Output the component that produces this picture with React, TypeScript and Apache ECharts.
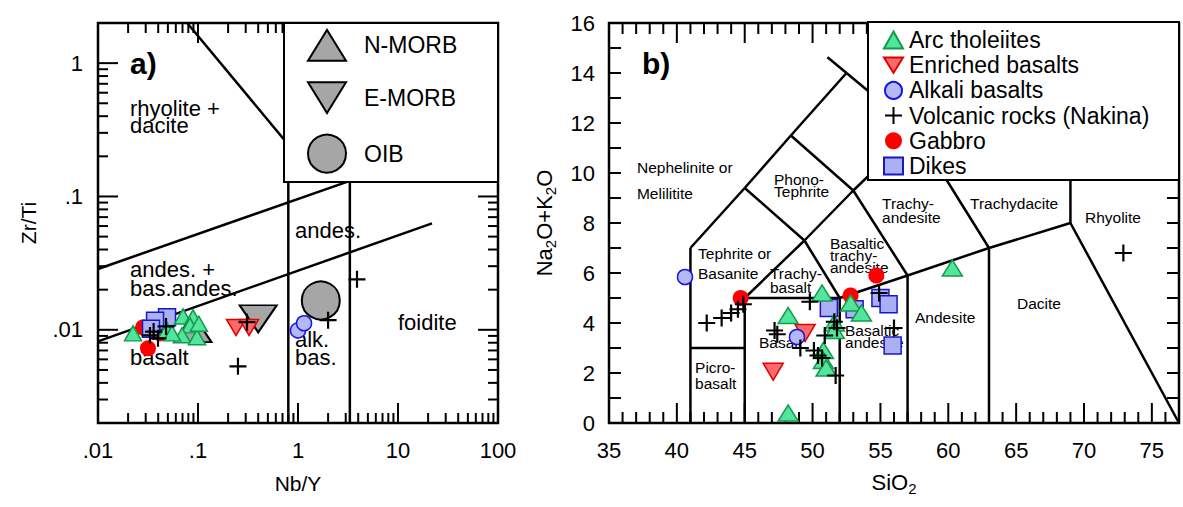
import React, { useEffect, useRef } from 'react';
import * as echarts from 'echarts';

const FONT = '"Liberation Sans", Arial, Helvetica, sans-serif';

// ---------- Panel a) Zr/Ti vs Nb/Y ----------
const arcA = [[0.0224, 0.0094], [0.049, 0.0099], [0.0708, 0.0126], [0.0891, 0.0124], [0.0832, 0.0108], [0.0692, 0.0091], [0.0977, 0.0088], [0.055, 0.0094], [0.102, 0.0111]];
const enrichedA = [[0.24, 0.0104], [0.324, 0.0104]];
const alkaliA = [[1.0, 0.0099], [1.15, 0.0112]];
const volcanicA = [[0.0331, 0.00908], [0.0398, 0.00863], [0.0479, 0.0106], [0.036, 0.0097], [0.309, 0.0114], [0.251, 0.00532], [2.0, 0.0118], [3.89, 0.0239]];
const gabbroA = [[0.0282, 0.0104], [0.0316, 0.00726], [0.0417, 0.0094]];
const dikesA = [[0.049, 0.0124], [0.0372, 0.0117], [0.0339, 0.0102]];
const nMorbA = [[0.089, 0.0103]];
const eMorbA = [[0.4, 0.0121]];
const oibA = [[1.69, 0.0166]];

// field boundaries [x1, y1, x2, y2]
const boundsA = [
  [0.078, 2, 1, 0.2],
  [0.01, 0.0286, 3.3, 0.131],
  [0.01, 0.00819, 21.9, 0.0629],
  [0.8, 0.002, 0.8, 0.2],
  [3.3, 0.002, 3.3, 0.2],
];
const labelsA = [
  { text: 'a)', x: 0.0209, y: 1.0, size: 30, bold: true },
  { text: 'rhyolite +\ndacite', x: 0.0209, y: 0.395, size: 22, lh: 17 },
  { text: 'andes.', x: 0.933, y: 0.0557, size: 22 },
  { text: 'andes. +\nbas.andes.', x: 0.0209, y: 0.0241, size: 22, lh: 19 },
  { text: 'basalt', x: 0.0209, y: 0.00621, size: 22 },
  { text: 'alk.\nbas.', x: 0.933, y: 0.00726, size: 22, lh: 18 },
  { text: 'foidite', x: 10, y: 0.01137, size: 22 },
];

// ---------- Panel b) TAS ----------
const arcB = [[48.2, 4.3], [48.2, 0.4], [50.7, 5.2], [52.8, 4.8], [53.6, 4.4], [51.6, 4.0], [51.6, 3.7], [50.8, 2.9], [50.8, 2.5], [51.0, 2.2], [60.3, 6.2]];
const enrichedB = [[47.1, 2.05], [49.45, 3.6]];
const alkaliB = [[40.6, 5.84], [48.85, 3.44]];
const volcanicB = [[42.2, 4.0], [43.3, 4.2], [44.0, 4.4], [44.5, 4.55], [44.9, 4.75], [47.2, 3.7], [47.4, 3.55], [49.8, 4.85], [49.1, 3.0], [50.1, 2.9], [50.4, 2.7], [50.7, 2.6], [50.9, 3.5], [51.6, 4.05], [51.8, 3.8], [51.7, 1.9], [54.9, 5.2], [56.0, 3.8], [72.9, 6.8]];
const gabbroB = [[44.7, 5.0], [52.8, 5.1], [54.7, 5.9]];
const dikesB = [[51.2, 4.6], [53.1, 4.55], [55.0, 5.0], [55.6, 4.75], [55.9, 3.1]];

const boundsB = [
  [41, 0, 41, 7], [41, 3, 45, 3], [45, 0, 45, 5], [45, 5, 52, 5], [52, 0, 52, 5],
  [52, 5, 57, 5.9], [57, 5.9, 63, 7], [63, 7, 69, 8], [57, 0, 57, 5.9], [63, 0, 63, 7],
  [69, 8, 77, 0], [69, 8, 69, 13],
  [41, 7, 45, 9.4], [45, 9.4, 48.4, 11.5], [48.4, 11.5, 52.5, 14],
  [45, 5, 49.4, 7.3], [49.4, 7.3, 52, 5], [49.4, 7.3, 45, 9.4],
  [49.4, 7.3, 53, 9.3], [53, 9.3, 57.6, 11.7], [53, 9.3, 48.4, 11.5], [53, 9.3, 57, 5.9],
  [57.6, 11.7, 63, 7], [51.1, 14.63, 52.5, 14], [52.5, 14, 57.6, 11.7],
];
const labelsB = [
  { text: 'b)', x: 37.43, y: 14.39, size: 30, bold: true },
  { text: 'Nephelinite or\nMelilitite', x: 37.06, y: 9.71, size: 15.5, lh: 26 },
  { text: 'Phono-\nTephrite', x: 47.16, y: 9.51, size: 15.5, lh: 12.5 },
  { text: 'Tephrite or\nBasanite', x: 41.56, y: 6.39, size: 15.5, lh: 20 },
  { text: 'Trachy-\nbasalt', x: 46.86, y: 5.71, size: 15.5, lh: 14 },
  { text: 'Basaltic\ntrachy-\nandesite', x: 51.28, y: 6.69, size: 15.5, lh: 12 },
  { text: 'Trachy-\nandesite', x: 55.12, y: 8.51, size: 15.5, lh: 14 },
  { text: 'Trachydacite', x: 61.6, y: 8.79, size: 15.5 },
  { text: 'Rhyolite', x: 70.07, y: 8.23, size: 15.5 },
  { text: 'Basalt', x: 46.05, y: 3.23, size: 15.5 },
  { text: 'Basaltic\nandesite', x: 52.39, y: 3.47, size: 15.5, lh: 12.5 },
  { text: 'Picro-\nbasalt', x: 41.34, y: 1.91, size: 15.5, lh: 16 },
  { text: 'Andesite', x: 57.55, y: 4.23, size: 15.5 },
  { text: 'Dacite', x: 65.06, y: 4.79, size: 15.5 },
];

// ---------- ticks ----------
const logMantissas = [2, 3, 4, 5, 6, 7, 8, 9];
const xDecadesA = [0.01, 0.1, 1, 10, 100];
const yDecadesA = [0.01, 0.1, 1];
const xTicksA = [
  ...xDecadesA.map((v) => ({ v, big: true })),
  ...[0.01, 0.1, 1, 10].flatMap((d) => logMantissas.map((m) => ({ v: m * d, big: false }))),
];
const yTicksA = [
  ...yDecadesA.map((v) => ({ v, big: true })),
  ...[0.001, 0.01, 0.1].flatMap((d) => logMantissas.map((m) => ({ v: m * d, big: false }))).filter((t) => t.v > 0.0021 && t.v < 1.99),
];
const xTicksB: { v: number; big: boolean }[] = [];
for (let v = 36; v <= 76; v++) xTicksB.push({ v, big: v % 5 === 0 });
const yTicksB: { v: number; big: boolean }[] = [];
for (let v = 1; v <= 15; v++) yTicksB.push({ v, big: false });

const triPath = 'path://M0,30L18.5,0L37,30Z';
const invPath = 'path://M0,0L37,0L18.5,30Z';
const plusPath = 'path://M0,5L10,5M5,0L5,10';

const ST = {
  arc: { symbol: 'triangle', itemStyle: { color: '#52e59c', borderColor: '#139a4c', borderWidth: 1.5, opacity: 1 } },
  enriched: { symbol: invPath, itemStyle: { color: '#fb6a6a', borderColor: '#e00000', borderWidth: 1.5, opacity: 1 } },
  alkali: { symbol: 'circle', itemStyle: { color: '#b4b9f5', borderColor: '#1515e6', borderWidth: 1.5, opacity: 1 } },
  volcanic: { symbol: plusPath, itemStyle: { color: '#000', borderColor: '#000', borderWidth: 2.2, opacity: 1 } },
  gabbro: { symbol: 'circle', itemStyle: { color: '#ff0000', borderColor: '#ff0000', borderWidth: 0, opacity: 1 } },
  dikes: { symbol: 'rect', itemStyle: { color: '#aab0f2', borderColor: '#1717c8', borderWidth: 1.5, opacity: 1 } },
  ref: { color: '#a6a6a6', borderColor: '#000', borderWidth: 2, opacity: 1 },
};

function scatter(name: string, gi: number, data: number[][], st: any, size: any) {
  return { type: 'scatter', name, xAxisIndex: gi, yAxisIndex: gi, data, symbol: st.symbol, symbolSize: size, itemStyle: st.itemStyle, z: 4 };
}

function boundSeries(gi: number, data: number[][]) {
  return {
    type: 'custom', xAxisIndex: gi, yAxisIndex: gi, silent: true, z: 1,
    data, encode: { x: [0, 2], y: [1, 3] },
    renderItem: (params: any, api: any) => {
      const p1 = api.coord([api.value(0), api.value(1)]);
      const p2 = api.coord([api.value(2), api.value(3)]);
      return { type: 'line', shape: { x1: p1[0], y1: p1[1], x2: p2[0], y2: p2[1] }, style: { stroke: '#000', lineWidth: 2.5 } };
    },
  };
}

function labelSeries(gi: number, labels: any[]) {
  return {
    type: 'custom', xAxisIndex: gi, yAxisIndex: gi, silent: true, z: 1,
    data: labels.map((l) => [l.x, l.y]),
    renderItem: (params: any, api: any) => {
      const l = labels[params.dataIndex];
      const p = api.coord([l.x, l.y]);
      return {
        type: 'text', x: p[0], y: p[1],
        style: {
          text: l.text, fill: '#000', fontSize: l.size, fontFamily: FONT, fontWeight: l.bold ? 'bold' : 'normal',
          align: 'left', verticalAlign: 'middle', lineHeight: l.lh || l.size,
        },
      };
    },
  };
}

function tickSeries(gi: number, dir: 'x' | 'y', ticks: { v: number; big: boolean }[], ref: number, bigLen: number, smallLen: number) {
  return {
    type: 'custom', xAxisIndex: gi, yAxisIndex: gi, silent: true, z: 3,
    data: ticks.map((t) => (dir === 'x' ? [t.v, ref] : [ref, t.v])),
    renderItem: (params: any, api: any) => {
      const t = ticks[params.dataIndex];
      const cs = params.coordSys;
      const len = t.big ? bigLen : smallLen;
      const p = api.coord(dir === 'x' ? [t.v, ref] : [ref, t.v]);
      const st = { stroke: '#000', lineWidth: 2 };
      if (dir === 'x') {
        const x = p[0];
        const b = cs.y + cs.height;
        return {
          type: 'group', children: [
            { type: 'line', shape: { x1: x, y1: b, x2: x, y2: b - len }, style: st },
            { type: 'line', shape: { x1: x, y1: cs.y, x2: x, y2: cs.y + len }, style: st },
          ],
        };
      }
      const y = p[1];
      const r = cs.x + cs.width;
      return {
        type: 'group', children: [
          { type: 'line', shape: { x1: cs.x, y1: y, x2: cs.x + len, y2: y }, style: st },
          { type: 'line', shape: { x1: r, y1: y, x2: r - len, y2: y }, style: st },
        ],
      };
    },
  };
}

const logFmt = (v: number) => {
  const l = Math.log10(v);
  if (Math.abs(l - Math.round(l)) > 1e-6) return '';
  const r = Math.round(l);
  if (r >= 0) return String(Math.pow(10, r));
  return '.' + '0'.repeat(-r - 1) + '1';
};

const labelStyle = { fontSize: 22, fontFamily: FONT, color: '#000' };
const nameStyle = { fontSize: 21, fontFamily: FONT, color: '#000' };
const subNameStyle = { fontSize: 22, fontFamily: FONT, color: '#000' };
const subRich = { s: { fontSize: 15, fontFamily: FONT, color: '#000', verticalAlign: 'bottom', lineHeight: 27 } };
const hidden = { axisLine: { show: false }, axisTick: { show: false }, splitLine: { show: false }, minorTick: { show: false } };

export default function App() {
  const ref = useRef<HTMLDivElement>(null);
  useEffect(() => {
    if (!ref.current) return;
    const chart = echarts.init(ref.current, undefined, { renderer: 'svg' });
    const option: any = {
      animation: false,
      backgroundColor: '#fff',
      grid: [
        { left: 98, top: 23, width: 400, height: 400, show: true, borderColor: '#000', borderWidth: 2.5, backgroundColor: 'transparent', outerBoundsMode: 'none' },
        { left: 609, top: 23, width: 570, height: 400, show: true, borderColor: '#000', borderWidth: 2.5, backgroundColor: 'transparent', outerBoundsMode: 'none' },
      ],
      xAxis: [
        {
          gridIndex: 0, type: 'log', logBase: 10, min: 0.01, max: 100, ...hidden,
          axisLabel: { ...labelStyle, margin: 16, formatter: logFmt, hideOverlap: false },
          name: 'Nb/Y', nameLocation: 'middle', nameGap: 50, nameTextStyle: nameStyle,
        },
        {
          gridIndex: 1, type: 'value', min: 35, max: 77, interval: 5, ...hidden,
          axisLabel: { ...labelStyle, margin: 16, showMaxLabel: false },
          name: 'SiO{s|2}', nameLocation: 'middle', nameGap: 46, nameTextStyle: { ...subNameStyle, rich: subRich },
        },
      ],
      yAxis: [
        {
          gridIndex: 0, type: 'log', logBase: 10, min: 0.002, max: 2, ...hidden,
          axisLabel: { ...labelStyle, margin: 15, formatter: logFmt, hideOverlap: false },
          name: 'Zr/Ti', nameLocation: 'middle', nameGap: 59, nameTextStyle: nameStyle,
        },
        {
          gridIndex: 1, type: 'value', min: 0, max: 16, interval: 2, ...hidden,
          axisLabel: { ...labelStyle, margin: 14 },
          name: 'Na{s|2}O+K{s|2}O', nameLocation: 'middle', nameGap: 51, nameTextStyle: { ...subNameStyle, rich: subRich },
        },
      ],
      legend: [
        {
          orient: 'vertical', left: 302, top: 24, itemWidth: 38, itemHeight: 38, itemGap: 19.5, z: 20,
          selectedMode: false, symbolRotate: 0,
          data: [{ name: 'N-MORB', icon: triPath }, { name: 'E-MORB', icon: invPath }, { name: 'OIB', icon: 'circle' }],
          textStyle: { fontSize: 23, fontFamily: FONT, color: '#000', padding: [0, 0, 0, 13] },
        },
        {
          orient: 'vertical', left: 878, top: 23.5, itemWidth: 19, itemHeight: 17, itemGap: 2.2, z: 20,
          selectedMode: false,
          data: ['Arc tholeiites', 'Enriched basalts', 'Alkali basalts', 'Volcanic rocks (Nakina)', 'Gabbro', 'Dikes'],
          textStyle: { fontSize: 23, lineHeight: 23, fontFamily: FONT, color: '#000', padding: [0, 0, 0, 1] },
        },
      ],
      graphic: {
        elements: [
          { type: 'rect', z: 10, shape: { x: 284, y: 23, width: 214, height: 159 }, style: { fill: '#fff', stroke: '#000', lineWidth: 2 } },
          { type: 'rect', z: 10, shape: { x: 868, y: 22, width: 311, height: 158 }, style: { fill: '#fff', stroke: '#000', lineWidth: 2 } },
        ],
      },
      series: [
        boundSeries(0, boundsA),
        labelSeries(0, labelsA),
        tickSeries(0, 'x', xTicksA, 0.01, 20, 10),
        tickSeries(0, 'y', yTicksA, 0.1, 20, 10),
        { type: 'scatter', name: 'N-MORB', xAxisIndex: 0, yAxisIndex: 0, data: nMorbA, symbol: 'triangle', symbolSize: [37, 28], itemStyle: ST.ref, z: 4 },
        { type: 'scatter', name: 'E-MORB', xAxisIndex: 0, yAxisIndex: 0, data: eMorbA, symbol: invPath, symbolSize: [37, 27], itemStyle: ST.ref, z: 4 },
        { type: 'scatter', name: 'OIB', xAxisIndex: 0, yAxisIndex: 0, data: oibA, symbol: 'circle', symbolSize: 38, itemStyle: ST.ref, z: 4 },
        scatter('Gabbro', 0, gabbroA, ST.gabbro, 16),
        scatter('Dikes', 0, dikesA, ST.dikes, 17),
        scatter('Alkali basalts', 0, alkaliA, ST.alkali, 15),
        scatter('Enriched basalts', 0, enrichedA, ST.enriched, [19, 16]),
        scatter('Arc tholeiites', 0, arcA, ST.arc, [17, 15]),
        scatter('Volcanic rocks (Nakina)', 0, volcanicA, ST.volcanic, 17),

        boundSeries(1, boundsB),
        labelSeries(1, labelsB),
        tickSeries(1, 'x', xTicksB, 8, 20, 11),
        tickSeries(1, 'y', yTicksB, 50, 12, 12),
        scatter('Dikes', 1, dikesB, ST.dikes, 17),
        scatter('Gabbro', 1, gabbroB, ST.gabbro, 16),
        scatter('Enriched basalts', 1, enrichedB, ST.enriched, [20, 17]),
        scatter('Alkali basalts', 1, alkaliB, ST.alkali, 15),
        scatter('Arc tholeiites', 1, arcB, ST.arc, [20, 16]),
        scatter('Volcanic rocks (Nakina)', 1, volcanicB, ST.volcanic, 17),
      ],
    };
    chart.setOption(option);
    return () => chart.dispose();
  }, []);
  return <div ref={ref} style={{ position: 'absolute', left: 0, top: 0, width: 1183, height: 507 }} />;
}
